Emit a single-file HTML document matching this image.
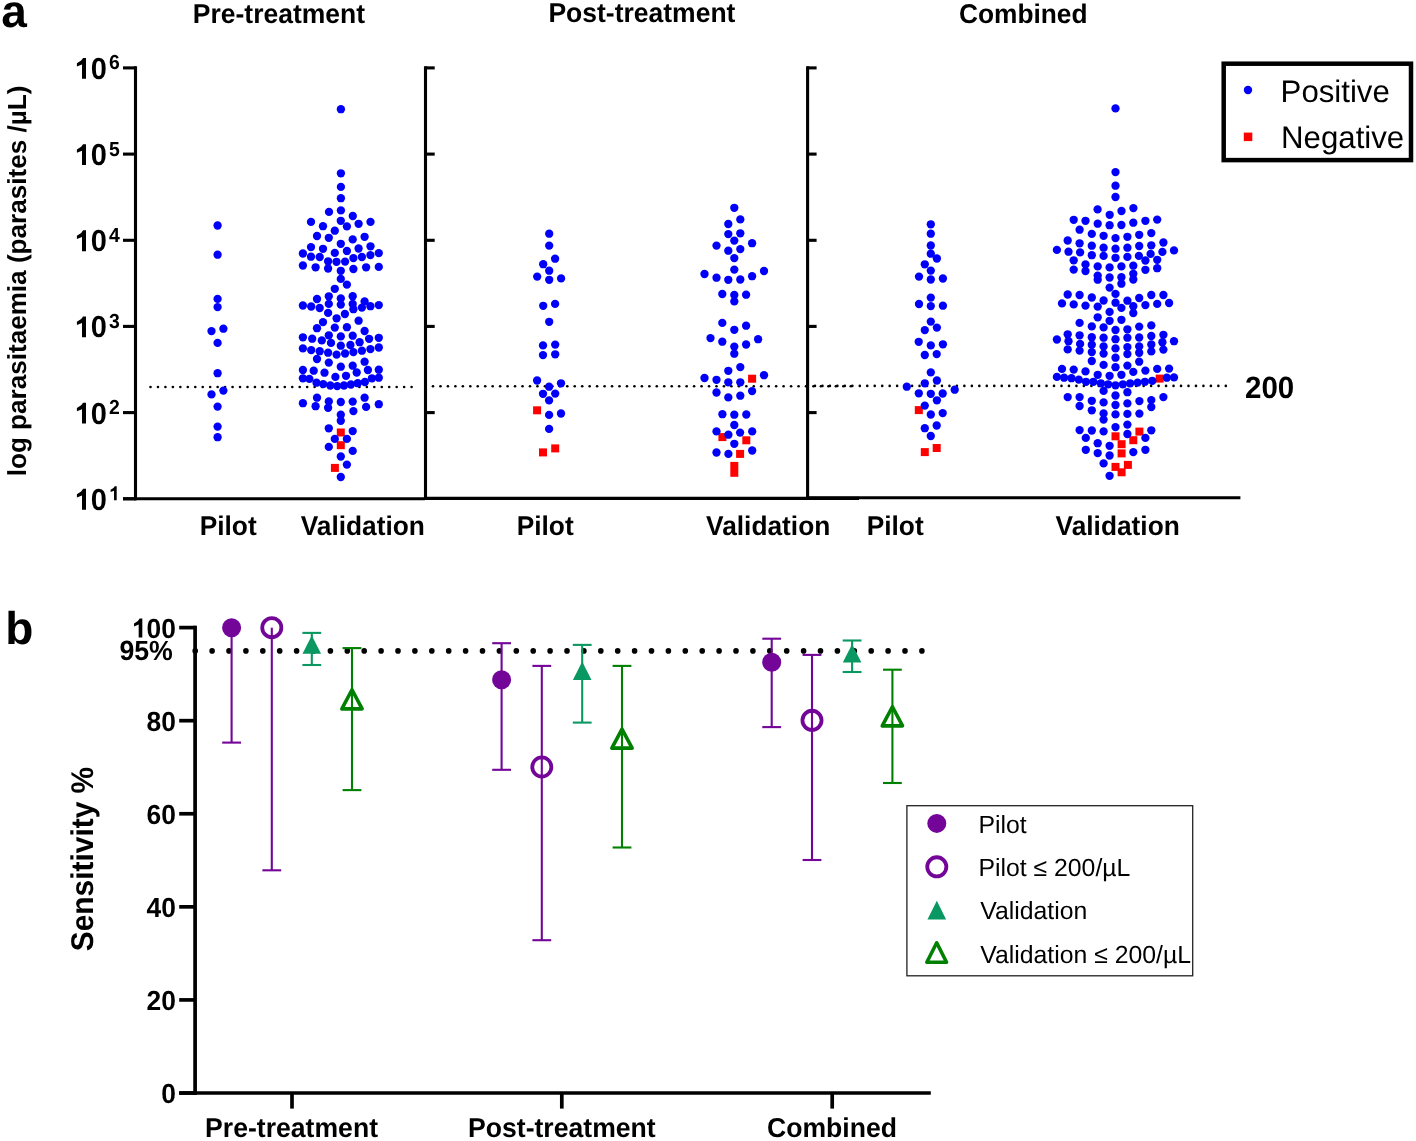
<!DOCTYPE html>
<html><head><meta charset="utf-8"><title>Figure</title>
<style>html,body{margin:0;padding:0;background:#fff;}body{width:1416px;height:1141px;overflow:hidden;}svg{display:block;will-change:transform;text-rendering:geometricPrecision;}</style>
</head><body>
<svg width="1416" height="1141" viewBox="0 0 1416 1141">
<rect width="1416" height="1141" fill="#fff"/>
<text transform="translate(1.2,26.9)" font-family="'Liberation Sans', sans-serif" font-weight="bold" font-size="46">a</text>
<text transform="translate(192.8,22.8) scale(1,1.03)" font-family="'Liberation Sans', sans-serif" font-weight="bold" font-size="26.5">Pre-treatment</text>
<text transform="translate(548.4,22) scale(1,1.03)" font-family="'Liberation Sans', sans-serif" font-weight="bold" font-size="26.5">Post-treatment</text>
<text transform="translate(959,23.3) scale(1,1.03)" font-family="'Liberation Sans', sans-serif" font-weight="bold" font-size="26.3">Combined</text>
<text transform="translate(26,476.3) rotate(-90)" font-family="'Liberation Sans', sans-serif" font-weight="bold" font-size="26.1">log parasitaemia (parasites /µL)</text>
<path d="M82,78.8 L86,78.8 L86,57.95 L83.1,57.95 L81.17,60.53 L76.9,63.3 L76.9,66.5 L82,64.5Z" fill="#000"/><text transform="translate(90.63,78.8) scale(1,1.045)" font-family="'Liberation Sans', sans-serif" font-weight="bold" font-size="29">0</text>
<text transform="translate(109,69.3) scale(1,1.045)" font-family="'Liberation Sans', sans-serif" font-weight="bold" font-size="19.4">6</text>
<line x1="123" y1="67.9" x2="136" y2="67.9" stroke="#000" stroke-width="3.1"/>
<line x1="425" y1="67.9" x2="434.7" y2="67.9" stroke="#000" stroke-width="3.1"/>
<line x1="807" y1="67.9" x2="816.6" y2="67.9" stroke="#000" stroke-width="3.1"/>
<path d="M82,165 L86,165 L86,144.15 L83.1,144.15 L81.17,146.73 L76.9,149.5 L76.9,152.7 L82,150.7Z" fill="#000"/><text transform="translate(90.63,165) scale(1,1.045)" font-family="'Liberation Sans', sans-serif" font-weight="bold" font-size="29">0</text>
<text transform="translate(109,155.5) scale(1,1.045)" font-family="'Liberation Sans', sans-serif" font-weight="bold" font-size="19.4">5</text>
<line x1="123" y1="154.1" x2="136" y2="154.1" stroke="#000" stroke-width="3.1"/>
<line x1="425" y1="154.1" x2="434.7" y2="154.1" stroke="#000" stroke-width="3.1"/>
<line x1="807" y1="154.1" x2="816.6" y2="154.1" stroke="#000" stroke-width="3.1"/>
<path d="M82,251.2 L86,251.2 L86,230.35 L83.1,230.35 L81.17,232.93 L76.9,235.7 L76.9,238.9 L82,236.9Z" fill="#000"/><text transform="translate(90.63,251.2) scale(1,1.045)" font-family="'Liberation Sans', sans-serif" font-weight="bold" font-size="29">0</text>
<text transform="translate(109,241.7) scale(1,1.045)" font-family="'Liberation Sans', sans-serif" font-weight="bold" font-size="19.4">4</text>
<line x1="123" y1="240.3" x2="136" y2="240.3" stroke="#000" stroke-width="3.1"/>
<line x1="425" y1="240.3" x2="434.7" y2="240.3" stroke="#000" stroke-width="3.1"/>
<line x1="807" y1="240.3" x2="816.6" y2="240.3" stroke="#000" stroke-width="3.1"/>
<path d="M82,337.3 L86,337.3 L86,316.45 L83.1,316.45 L81.17,319.03 L76.9,321.8 L76.9,325 L82,323Z" fill="#000"/><text transform="translate(90.63,337.3) scale(1,1.045)" font-family="'Liberation Sans', sans-serif" font-weight="bold" font-size="29">0</text>
<text transform="translate(109,327.8) scale(1,1.045)" font-family="'Liberation Sans', sans-serif" font-weight="bold" font-size="19.4">3</text>
<line x1="123" y1="326.4" x2="136" y2="326.4" stroke="#000" stroke-width="3.1"/>
<line x1="425" y1="326.4" x2="434.7" y2="326.4" stroke="#000" stroke-width="3.1"/>
<line x1="807" y1="326.4" x2="816.6" y2="326.4" stroke="#000" stroke-width="3.1"/>
<path d="M82,423.5 L86,423.5 L86,402.65 L83.1,402.65 L81.17,405.23 L76.9,408 L76.9,411.2 L82,409.2Z" fill="#000"/><text transform="translate(90.63,423.5) scale(1,1.045)" font-family="'Liberation Sans', sans-serif" font-weight="bold" font-size="29">0</text>
<text transform="translate(109,414) scale(1,1.045)" font-family="'Liberation Sans', sans-serif" font-weight="bold" font-size="19.4">2</text>
<line x1="123" y1="412.6" x2="136" y2="412.6" stroke="#000" stroke-width="3.1"/>
<line x1="425" y1="412.6" x2="434.7" y2="412.6" stroke="#000" stroke-width="3.1"/>
<line x1="807" y1="412.6" x2="816.6" y2="412.6" stroke="#000" stroke-width="3.1"/>
<path d="M82,509.7 L86,509.7 L86,488.85 L83.1,488.85 L81.17,491.43 L76.9,494.2 L76.9,497.4 L82,495.4Z" fill="#000"/><text transform="translate(90.63,509.7) scale(1,1.045)" font-family="'Liberation Sans', sans-serif" font-weight="bold" font-size="29">0</text>
<path d="M114.02,500.2 L116.69,500.2 L116.69,486.25 L114.75,486.25 L113.46,487.98 L110.61,489.83 L110.61,491.97 L114.02,490.63Z" fill="#000"/>
<line x1="123" y1="498.8" x2="136" y2="498.8" stroke="#000" stroke-width="3.1"/>
<line x1="135.5" y1="66.3" x2="135.5" y2="500.3" stroke="#000" stroke-width="3.1"/>
<line x1="123" y1="498.8" x2="425" y2="498.8" stroke="#000" stroke-width="3.1"/>
<line x1="425.5" y1="66.3" x2="425.5" y2="499.9" stroke="#000" stroke-width="3.1"/>
<line x1="424" y1="498.4" x2="859" y2="498.4" stroke="#000" stroke-width="3.1"/>
<line x1="807.6" y1="66.3" x2="807.6" y2="499.3" stroke="#000" stroke-width="3.1"/>
<line x1="806" y1="497.8" x2="1240.4" y2="497.8" stroke="#000" stroke-width="3.1"/>
<g fill="#000"><circle cx="150.5" cy="387" r="1.3"/><circle cx="157.96" cy="387" r="1.3"/><circle cx="165.42" cy="387" r="1.3"/><circle cx="172.88" cy="387" r="1.3"/><circle cx="180.34" cy="387" r="1.3"/><circle cx="187.8" cy="387" r="1.3"/><circle cx="195.26" cy="387" r="1.3"/><circle cx="202.72" cy="387" r="1.3"/><circle cx="210.18" cy="387" r="1.3"/><circle cx="217.64" cy="387" r="1.3"/><circle cx="225.1" cy="387" r="1.3"/><circle cx="232.56" cy="387" r="1.3"/><circle cx="240.02" cy="387" r="1.3"/><circle cx="247.48" cy="387" r="1.3"/><circle cx="254.94" cy="387" r="1.3"/><circle cx="262.4" cy="387" r="1.3"/><circle cx="269.86" cy="387" r="1.3"/><circle cx="277.32" cy="387" r="1.3"/><circle cx="284.78" cy="387" r="1.3"/><circle cx="292.24" cy="387" r="1.3"/><circle cx="299.7" cy="387" r="1.3"/><circle cx="307.16" cy="387" r="1.3"/><circle cx="314.62" cy="387" r="1.3"/><circle cx="322.08" cy="387" r="1.3"/><circle cx="329.54" cy="387" r="1.3"/><circle cx="337" cy="387" r="1.3"/><circle cx="344.46" cy="387" r="1.3"/><circle cx="351.92" cy="387" r="1.3"/><circle cx="359.38" cy="387" r="1.3"/><circle cx="366.84" cy="387" r="1.3"/><circle cx="374.3" cy="387" r="1.3"/><circle cx="381.76" cy="387" r="1.3"/><circle cx="389.22" cy="387" r="1.3"/><circle cx="396.68" cy="387" r="1.3"/><circle cx="404.14" cy="387" r="1.3"/><circle cx="411.6" cy="387" r="1.3"/><circle cx="433" cy="386.2" r="1.3"/><circle cx="440.46" cy="386.2" r="1.3"/><circle cx="447.92" cy="386.2" r="1.3"/><circle cx="455.38" cy="386.2" r="1.3"/><circle cx="462.84" cy="386.2" r="1.3"/><circle cx="470.3" cy="386.2" r="1.3"/><circle cx="477.76" cy="386.2" r="1.3"/><circle cx="485.22" cy="386.2" r="1.3"/><circle cx="492.68" cy="386.2" r="1.3"/><circle cx="500.14" cy="386.2" r="1.3"/><circle cx="507.6" cy="386.2" r="1.3"/><circle cx="515.06" cy="386.2" r="1.3"/><circle cx="522.52" cy="386.2" r="1.3"/><circle cx="529.98" cy="386.2" r="1.3"/><circle cx="537.44" cy="386.2" r="1.3"/><circle cx="544.9" cy="386.2" r="1.3"/><circle cx="552.36" cy="386.2" r="1.3"/><circle cx="559.82" cy="386.2" r="1.3"/><circle cx="567.28" cy="386.2" r="1.3"/><circle cx="574.74" cy="386.2" r="1.3"/><circle cx="582.2" cy="386.2" r="1.3"/><circle cx="589.66" cy="386.2" r="1.3"/><circle cx="597.12" cy="386.2" r="1.3"/><circle cx="604.58" cy="386.2" r="1.3"/><circle cx="612.04" cy="386.2" r="1.3"/><circle cx="619.5" cy="386.2" r="1.3"/><circle cx="626.96" cy="386.2" r="1.3"/><circle cx="634.42" cy="386.2" r="1.3"/><circle cx="641.88" cy="386.2" r="1.3"/><circle cx="649.34" cy="386.2" r="1.3"/><circle cx="656.8" cy="386.2" r="1.3"/><circle cx="664.26" cy="386.2" r="1.3"/><circle cx="671.72" cy="386.2" r="1.3"/><circle cx="679.18" cy="386.2" r="1.3"/><circle cx="686.64" cy="386.2" r="1.3"/><circle cx="694.1" cy="386.2" r="1.3"/><circle cx="701.56" cy="386.2" r="1.3"/><circle cx="709.02" cy="386.2" r="1.3"/><circle cx="716.48" cy="386.2" r="1.3"/><circle cx="723.94" cy="386.2" r="1.3"/><circle cx="731.4" cy="386.2" r="1.3"/><circle cx="738.86" cy="386.2" r="1.3"/><circle cx="746.32" cy="386.2" r="1.3"/><circle cx="753.78" cy="386.2" r="1.3"/><circle cx="761.24" cy="386.2" r="1.3"/><circle cx="768.7" cy="386.2" r="1.3"/><circle cx="776.16" cy="386.2" r="1.3"/><circle cx="783.62" cy="386.2" r="1.3"/><circle cx="791.08" cy="386.2" r="1.3"/><circle cx="798.54" cy="386.2" r="1.3"/><circle cx="806" cy="386.2" r="1.3"/><circle cx="813.46" cy="386.2" r="1.3"/><circle cx="820.92" cy="386.2" r="1.3"/><circle cx="828.38" cy="386.2" r="1.3"/><circle cx="835.84" cy="386.2" r="1.3"/><circle cx="843.3" cy="386.2" r="1.3"/><circle cx="850.76" cy="386.2" r="1.3"/><circle cx="807.5" cy="385.9" r="1.3"/><circle cx="814.97" cy="385.9" r="1.3"/><circle cx="822.44" cy="385.9" r="1.3"/><circle cx="829.91" cy="385.9" r="1.3"/><circle cx="837.38" cy="385.9" r="1.3"/><circle cx="844.85" cy="385.9" r="1.3"/><circle cx="852.32" cy="385.9" r="1.3"/><circle cx="859.79" cy="385.9" r="1.3"/><circle cx="867.26" cy="385.9" r="1.3"/><circle cx="874.73" cy="385.9" r="1.3"/><circle cx="882.2" cy="385.9" r="1.3"/><circle cx="889.67" cy="385.9" r="1.3"/><circle cx="897.14" cy="385.9" r="1.3"/><circle cx="904.61" cy="385.9" r="1.3"/><circle cx="912.08" cy="385.9" r="1.3"/><circle cx="919.55" cy="385.9" r="1.3"/><circle cx="927.02" cy="385.9" r="1.3"/><circle cx="934.49" cy="385.9" r="1.3"/><circle cx="941.96" cy="385.9" r="1.3"/><circle cx="949.43" cy="385.9" r="1.3"/><circle cx="956.9" cy="385.9" r="1.3"/><circle cx="964.37" cy="385.9" r="1.3"/><circle cx="971.84" cy="385.9" r="1.3"/><circle cx="979.31" cy="385.9" r="1.3"/><circle cx="986.78" cy="385.9" r="1.3"/><circle cx="994.25" cy="385.9" r="1.3"/><circle cx="1001.72" cy="385.9" r="1.3"/><circle cx="1009.19" cy="385.9" r="1.3"/><circle cx="1016.66" cy="385.9" r="1.3"/><circle cx="1024.13" cy="385.9" r="1.3"/><circle cx="1031.6" cy="385.9" r="1.3"/><circle cx="1039.07" cy="385.9" r="1.3"/><circle cx="1046.54" cy="385.9" r="1.3"/><circle cx="1054.01" cy="385.9" r="1.3"/><circle cx="1061.48" cy="385.9" r="1.3"/><circle cx="1068.95" cy="385.9" r="1.3"/><circle cx="1076.42" cy="385.9" r="1.3"/><circle cx="1083.89" cy="385.9" r="1.3"/><circle cx="1091.36" cy="385.9" r="1.3"/><circle cx="1098.83" cy="385.9" r="1.3"/><circle cx="1106.3" cy="385.9" r="1.3"/><circle cx="1113.77" cy="385.9" r="1.3"/><circle cx="1121.24" cy="385.9" r="1.3"/><circle cx="1128.71" cy="385.9" r="1.3"/><circle cx="1136.18" cy="385.9" r="1.3"/><circle cx="1143.65" cy="385.9" r="1.3"/><circle cx="1151.12" cy="385.9" r="1.3"/><circle cx="1158.59" cy="385.9" r="1.3"/><circle cx="1166.06" cy="385.9" r="1.3"/><circle cx="1173.53" cy="385.9" r="1.3"/><circle cx="1181" cy="385.9" r="1.3"/><circle cx="1188.47" cy="385.9" r="1.3"/><circle cx="1195.94" cy="385.9" r="1.3"/><circle cx="1203.41" cy="385.9" r="1.3"/><circle cx="1210.88" cy="385.9" r="1.3"/><circle cx="1218.35" cy="385.9" r="1.3"/><circle cx="1225.82" cy="385.9" r="1.3"/></g>
<text transform="translate(1244.98,397.6) scale(1,1.045)" font-family="'Liberation Sans', sans-serif" font-weight="bold" font-size="29.5">2</text><text transform="translate(1261.39,397.6) scale(1,1.045)" font-family="'Liberation Sans', sans-serif" font-weight="bold" font-size="29.5">0</text><text transform="translate(1277.79,397.6) scale(1,1.045)" font-family="'Liberation Sans', sans-serif" font-weight="bold" font-size="29.5">0</text>
<g fill="#ff0000"><rect x="336.8" y="428.5" width="8" height="8"/><rect x="336.8" y="441.2" width="8" height="8"/><rect x="330.9" y="463.9" width="8" height="8"/><rect x="533.1" y="406.3" width="8" height="8"/><rect x="539" y="448.4" width="8" height="8"/><rect x="551.2" y="444.4" width="8" height="8"/><rect x="748.1" y="374.7" width="8" height="8"/><rect x="718.4" y="433.1" width="8" height="8"/><rect x="742.3" y="436.3" width="8" height="8"/><rect x="736.1" y="449.9" width="8" height="8"/><rect x="914.8" y="406.1" width="8" height="8"/><rect x="920.8" y="448.1" width="8" height="8"/><rect x="932.7" y="444" width="8" height="8"/><rect x="1155.7" y="374.6" width="8" height="8"/><rect x="1135.4" y="427.6" width="8" height="8"/><rect x="1111.5" y="432.3" width="8" height="8"/><rect x="1129.3" y="436.2" width="8" height="8"/><rect x="1117.6" y="440.2" width="8" height="8"/><rect x="1117.6" y="449.4" width="8" height="8"/><rect x="1111.5" y="462.9" width="8" height="8"/><rect x="1123.9" y="460.9" width="8" height="8"/><rect x="1117.6" y="468.3" width="8" height="8"/></g>
<rect x="730.3" y="461.9" width="8" height="14.9" fill="#ff0000"/>
<g fill="#0000fa"><circle cx="217.6" cy="225.5" r="4.15"/><circle cx="217.6" cy="254.7" r="4.15"/><circle cx="217.6" cy="298.9" r="4.15"/><circle cx="217.6" cy="307.1" r="4.15"/><circle cx="223.4" cy="328.7" r="4.15"/><circle cx="211.5" cy="331.1" r="4.15"/><circle cx="217.6" cy="342.9" r="4.15"/><circle cx="217.6" cy="373.2" r="4.15"/><circle cx="223.4" cy="390.6" r="4.15"/><circle cx="211.5" cy="394.4" r="4.15"/><circle cx="217.6" cy="406.6" r="4.15"/><circle cx="217.6" cy="426.6" r="4.15"/><circle cx="217.6" cy="437.2" r="4.15"/><circle cx="340.9" cy="109.2" r="4.15"/><circle cx="340.9" cy="173.3" r="4.15"/><circle cx="340.9" cy="186.9" r="4.15"/><circle cx="340.9" cy="198.2" r="4.15"/><circle cx="329" cy="211.9" r="4.15"/><circle cx="340.9" cy="210.4" r="4.15"/><circle cx="352.8" cy="216" r="4.15"/><circle cx="311" cy="221.9" r="4.15"/><circle cx="340.8" cy="220.8" r="4.15"/><circle cx="370.5" cy="221.9" r="4.15"/><circle cx="323" cy="226.2" r="4.15"/><circle cx="346.9" cy="226.4" r="4.15"/><circle cx="358.6" cy="223.8" r="4.15"/><circle cx="334.8" cy="230.7" r="4.15"/><circle cx="317" cy="236" r="4.15"/><circle cx="328.8" cy="237.8" r="4.15"/><circle cx="352.7" cy="239.4" r="4.15"/><circle cx="364.6" cy="236.8" r="4.15"/><circle cx="340.8" cy="243.8" r="4.15"/><circle cx="311" cy="247.1" r="4.15"/><circle cx="323" cy="248.8" r="4.15"/><circle cx="358.6" cy="248.5" r="4.15"/><circle cx="370.5" cy="246.3" r="4.15"/><circle cx="302.9" cy="253.5" r="4.15"/><circle cx="334.8" cy="252.9" r="4.15"/><circle cx="346.9" cy="251" r="4.15"/><circle cx="378.8" cy="253.1" r="4.15"/><circle cx="311" cy="256.7" r="4.15"/><circle cx="319.7" cy="257" r="4.15"/><circle cx="353.4" cy="258.1" r="4.15"/><circle cx="361.9" cy="257" r="4.15"/><circle cx="370.4" cy="255.1" r="4.15"/><circle cx="328.1" cy="261.3" r="4.15"/><circle cx="336.5" cy="261.8" r="4.15"/><circle cx="345.1" cy="261.6" r="4.15"/><circle cx="302.9" cy="265.5" r="4.15"/><circle cx="315.6" cy="267.3" r="4.15"/><circle cx="328.1" cy="268.5" r="4.15"/><circle cx="340.8" cy="270.8" r="4.15"/><circle cx="353.4" cy="269" r="4.15"/><circle cx="366.1" cy="267.3" r="4.15"/><circle cx="378.8" cy="266.9" r="4.15"/><circle cx="340.8" cy="278.9" r="4.15"/><circle cx="346.9" cy="284.6" r="4.15"/><circle cx="334.8" cy="288.8" r="4.15"/><circle cx="328.8" cy="296.3" r="4.15"/><circle cx="340.8" cy="298.4" r="4.15"/><circle cx="352.7" cy="296.2" r="4.15"/><circle cx="317" cy="299" r="4.15"/><circle cx="302.9" cy="305.5" r="4.15"/><circle cx="311.2" cy="306.5" r="4.15"/><circle cx="319.7" cy="308" r="4.15"/><circle cx="328.8" cy="303.9" r="4.15"/><circle cx="340.8" cy="304.6" r="4.15"/><circle cx="352.7" cy="303.9" r="4.15"/><circle cx="353.4" cy="309.2" r="4.15"/><circle cx="364.6" cy="301.4" r="4.15"/><circle cx="361.9" cy="307.6" r="4.15"/><circle cx="370.4" cy="306.2" r="4.15"/><circle cx="378.8" cy="305.1" r="4.15"/><circle cx="328.1" cy="312.9" r="4.15"/><circle cx="344.9" cy="314" r="4.15"/><circle cx="336.6" cy="318.3" r="4.15"/><circle cx="358.6" cy="320.7" r="4.15"/><circle cx="323" cy="322.1" r="4.15"/><circle cx="317" cy="328.2" r="4.15"/><circle cx="334.8" cy="327.6" r="4.15"/><circle cx="346.9" cy="327.2" r="4.15"/><circle cx="364.6" cy="331" r="4.15"/><circle cx="302.9" cy="337.3" r="4.15"/><circle cx="312.2" cy="338.7" r="4.15"/><circle cx="321.8" cy="340.4" r="4.15"/><circle cx="328.8" cy="335.3" r="4.15"/><circle cx="331" cy="342.9" r="4.15"/><circle cx="340.8" cy="336.4" r="4.15"/><circle cx="340.8" cy="345.7" r="4.15"/><circle cx="352.7" cy="335.7" r="4.15"/><circle cx="350.4" cy="345" r="4.15"/><circle cx="359.6" cy="342.2" r="4.15"/><circle cx="369.1" cy="338.8" r="4.15"/><circle cx="378.8" cy="337.8" r="4.15"/><circle cx="302.9" cy="348.4" r="4.15"/><circle cx="311.2" cy="350.1" r="4.15"/><circle cx="319.7" cy="351.2" r="4.15"/><circle cx="328.1" cy="352.7" r="4.15"/><circle cx="336.6" cy="354.6" r="4.15"/><circle cx="345.1" cy="353.5" r="4.15"/><circle cx="353.4" cy="352.1" r="4.15"/><circle cx="361.9" cy="350.7" r="4.15"/><circle cx="370.4" cy="349.1" r="4.15"/><circle cx="378.8" cy="347.5" r="4.15"/><circle cx="317" cy="359" r="4.15"/><circle cx="328.8" cy="362.6" r="4.15"/><circle cx="340.8" cy="366.7" r="4.15"/><circle cx="352.7" cy="365.7" r="4.15"/><circle cx="364.6" cy="361.7" r="4.15"/><circle cx="302.9" cy="370" r="4.15"/><circle cx="313.7" cy="370.7" r="4.15"/><circle cx="324.5" cy="372.7" r="4.15"/><circle cx="356.7" cy="372.5" r="4.15"/><circle cx="367.9" cy="370" r="4.15"/><circle cx="378.8" cy="369.7" r="4.15"/><circle cx="335.4" cy="376.9" r="4.15"/><circle cx="346" cy="375.8" r="4.15"/><circle cx="302.9" cy="378.3" r="4.15"/><circle cx="309.4" cy="378.9" r="4.15"/><circle cx="316.5" cy="382.7" r="4.15"/><circle cx="323.2" cy="384.1" r="4.15"/><circle cx="330.3" cy="385.5" r="4.15"/><circle cx="337.2" cy="386.1" r="4.15"/><circle cx="344" cy="385.5" r="4.15"/><circle cx="350.9" cy="384.5" r="4.15"/><circle cx="357.8" cy="383.2" r="4.15"/><circle cx="364.9" cy="382" r="4.15"/><circle cx="371.9" cy="378.3" r="4.15"/><circle cx="378.8" cy="377.7" r="4.15"/><circle cx="302.9" cy="403.2" r="4.15"/><circle cx="317" cy="397.7" r="4.15"/><circle cx="315.6" cy="406.2" r="4.15"/><circle cx="328.8" cy="401.4" r="4.15"/><circle cx="328.1" cy="407.8" r="4.15"/><circle cx="340.8" cy="402" r="4.15"/><circle cx="352.7" cy="401.6" r="4.15"/><circle cx="353.4" cy="411.1" r="4.15"/><circle cx="364.6" cy="397.7" r="4.15"/><circle cx="366.1" cy="406.9" r="4.15"/><circle cx="378.8" cy="404.2" r="4.15"/><circle cx="340.8" cy="414.7" r="4.15"/><circle cx="340.8" cy="420.8" r="4.15"/><circle cx="328.8" cy="428.3" r="4.15"/><circle cx="352.7" cy="431.1" r="4.15"/><circle cx="334.8" cy="438.9" r="4.15"/><circle cx="346.9" cy="438.9" r="4.15"/><circle cx="328.8" cy="446.9" r="4.15"/><circle cx="352.7" cy="450.9" r="4.15"/><circle cx="340.8" cy="456.5" r="4.15"/><circle cx="346.9" cy="464.6" r="4.15"/><circle cx="340.8" cy="477" r="4.15"/><circle cx="549.2" cy="233.7" r="4.15"/><circle cx="549.2" cy="245.6" r="4.15"/><circle cx="555.1" cy="258.7" r="4.15"/><circle cx="543.2" cy="264.2" r="4.15"/><circle cx="549.2" cy="270.7" r="4.15"/><circle cx="537.2" cy="276.6" r="4.15"/><circle cx="549.2" cy="279.8" r="4.15"/><circle cx="561.1" cy="278.4" r="4.15"/><circle cx="543.2" cy="305.8" r="4.15"/><circle cx="555.1" cy="303.9" r="4.15"/><circle cx="549.2" cy="321.8" r="4.15"/><circle cx="543" cy="345.4" r="4.15"/><circle cx="555.2" cy="344.6" r="4.15"/><circle cx="543" cy="355.1" r="4.15"/><circle cx="555.2" cy="354.3" r="4.15"/><circle cx="537.1" cy="380.5" r="4.15"/><circle cx="561" cy="383.3" r="4.15"/><circle cx="549.1" cy="386.7" r="4.15"/><circle cx="543" cy="393.8" r="4.15"/><circle cx="555.2" cy="393.6" r="4.15"/><circle cx="549.1" cy="400.4" r="4.15"/><circle cx="549.1" cy="414.9" r="4.15"/><circle cx="561" cy="413.5" r="4.15"/><circle cx="549.1" cy="428.9" r="4.15"/><circle cx="734.3" cy="207.8" r="4.15"/><circle cx="740.3" cy="219.4" r="4.15"/><circle cx="728.3" cy="224" r="4.15"/><circle cx="728.3" cy="234.1" r="4.15"/><circle cx="740.3" cy="233.3" r="4.15"/><circle cx="734.3" cy="240.6" r="4.15"/><circle cx="716.5" cy="245.6" r="4.15"/><circle cx="752.1" cy="243.2" r="4.15"/><circle cx="728.3" cy="250.7" r="4.15"/><circle cx="740.3" cy="249.1" r="4.15"/><circle cx="734.3" cy="258.1" r="4.15"/><circle cx="734.3" cy="269.6" r="4.15"/><circle cx="704.5" cy="274" r="4.15"/><circle cx="764" cy="271" r="4.15"/><circle cx="716.5" cy="277.7" r="4.15"/><circle cx="728.3" cy="279.8" r="4.15"/><circle cx="740.3" cy="279.5" r="4.15"/><circle cx="752.1" cy="276.2" r="4.15"/><circle cx="722.3" cy="294" r="4.15"/><circle cx="734.3" cy="295" r="4.15"/><circle cx="746.1" cy="294.7" r="4.15"/><circle cx="734.3" cy="301.4" r="4.15"/><circle cx="722.3" cy="322.9" r="4.15"/><circle cx="746.1" cy="325.7" r="4.15"/><circle cx="734.3" cy="329.8" r="4.15"/><circle cx="710.5" cy="338.1" r="4.15"/><circle cx="758.1" cy="339.2" r="4.15"/><circle cx="722.3" cy="341.7" r="4.15"/><circle cx="746.1" cy="344.5" r="4.15"/><circle cx="734.3" cy="346.6" r="4.15"/><circle cx="734.3" cy="353.7" r="4.15"/><circle cx="740.3" cy="367.1" r="4.15"/><circle cx="728.3" cy="370.8" r="4.15"/><circle cx="704.5" cy="378" r="4.15"/><circle cx="716.5" cy="379.8" r="4.15"/><circle cx="728.3" cy="382.3" r="4.15"/><circle cx="740.3" cy="382.3" r="4.15"/><circle cx="764" cy="375.2" r="4.15"/><circle cx="716.5" cy="392.5" r="4.15"/><circle cx="752.1" cy="391.1" r="4.15"/><circle cx="728.3" cy="397.4" r="4.15"/><circle cx="740.3" cy="395.7" r="4.15"/><circle cx="722.4" cy="414.2" r="4.15"/><circle cx="734.3" cy="414.7" r="4.15"/><circle cx="746.3" cy="414.5" r="4.15"/><circle cx="734.3" cy="425" r="4.15"/><circle cx="716.5" cy="431.4" r="4.15"/><circle cx="728.4" cy="434.7" r="4.15"/><circle cx="740.1" cy="432.6" r="4.15"/><circle cx="752.2" cy="431.4" r="4.15"/><circle cx="734.3" cy="443.8" r="4.15"/><circle cx="716.5" cy="452.5" r="4.15"/><circle cx="728.4" cy="453.9" r="4.15"/><circle cx="752.2" cy="450.5" r="4.15"/><circle cx="930.8" cy="224.3" r="4.15"/><circle cx="930.8" cy="233.7" r="4.15"/><circle cx="930.8" cy="245.5" r="4.15"/><circle cx="930.8" cy="253.7" r="4.15"/><circle cx="936.9" cy="258.5" r="4.15"/><circle cx="924.8" cy="264.3" r="4.15"/><circle cx="930.8" cy="270.6" r="4.15"/><circle cx="919" cy="276.6" r="4.15"/><circle cx="930.8" cy="279.5" r="4.15"/><circle cx="942.9" cy="278.5" r="4.15"/><circle cx="930.8" cy="297.6" r="4.15"/><circle cx="919" cy="304" r="4.15"/><circle cx="930.8" cy="306.1" r="4.15"/><circle cx="942.9" cy="305.7" r="4.15"/><circle cx="930.8" cy="321.6" r="4.15"/><circle cx="936.9" cy="327.6" r="4.15"/><circle cx="924.8" cy="330.1" r="4.15"/><circle cx="918.7" cy="341.8" r="4.15"/><circle cx="930.8" cy="345.4" r="4.15"/><circle cx="942.9" cy="344.3" r="4.15"/><circle cx="924.8" cy="355" r="4.15"/><circle cx="936.7" cy="354.1" r="4.15"/><circle cx="930.8" cy="372.4" r="4.15"/><circle cx="936.9" cy="380.5" r="4.15"/><circle cx="924.8" cy="383.3" r="4.15"/><circle cx="906.8" cy="386.7" r="4.15"/><circle cx="954.7" cy="389.7" r="4.15"/><circle cx="918.8" cy="393.3" r="4.15"/><circle cx="930.8" cy="393.8" r="4.15"/><circle cx="942.7" cy="393.5" r="4.15"/><circle cx="936.9" cy="400.3" r="4.15"/><circle cx="924.8" cy="405.6" r="4.15"/><circle cx="930.8" cy="414.5" r="4.15"/><circle cx="942.7" cy="413.1" r="4.15"/><circle cx="924.8" cy="428.2" r="4.15"/><circle cx="936.7" cy="425.5" r="4.15"/><circle cx="930.8" cy="436" r="4.15"/><circle cx="1115.5" cy="108.4" r="4.15"/><circle cx="1115.5" cy="172.1" r="4.15"/><circle cx="1115.5" cy="185.7" r="4.15"/><circle cx="1115.5" cy="197" r="4.15"/><circle cx="1097.6" cy="209.4" r="4.15"/><circle cx="1133.4" cy="208.1" r="4.15"/><circle cx="1109.7" cy="214.8" r="4.15"/><circle cx="1121.5" cy="211" r="4.15"/><circle cx="1073.7" cy="219.8" r="4.15"/><circle cx="1085.5" cy="220.8" r="4.15"/><circle cx="1097.7" cy="223.7" r="4.15"/><circle cx="1109.6" cy="225.2" r="4.15"/><circle cx="1121.4" cy="225" r="4.15"/><circle cx="1133.3" cy="222.7" r="4.15"/><circle cx="1145.4" cy="220.8" r="4.15"/><circle cx="1157.2" cy="219.6" r="4.15"/><circle cx="1079.6" cy="229.7" r="4.15"/><circle cx="1091.8" cy="233.9" r="4.15"/><circle cx="1103.6" cy="235.8" r="4.15"/><circle cx="1115.5" cy="238.1" r="4.15"/><circle cx="1127.4" cy="236.8" r="4.15"/><circle cx="1139.2" cy="234.8" r="4.15"/><circle cx="1151.3" cy="233.1" r="4.15"/><circle cx="1067.7" cy="240.5" r="4.15"/><circle cx="1079.6" cy="243.3" r="4.15"/><circle cx="1091.8" cy="245.7" r="4.15"/><circle cx="1103.6" cy="247.7" r="4.15"/><circle cx="1115.5" cy="248.7" r="4.15"/><circle cx="1127.4" cy="247.7" r="4.15"/><circle cx="1139.2" cy="246" r="4.15"/><circle cx="1151.3" cy="245.3" r="4.15"/><circle cx="1163.4" cy="242.5" r="4.15"/><circle cx="1056.9" cy="249.9" r="4.15"/><circle cx="1068.5" cy="251.7" r="4.15"/><circle cx="1080.1" cy="252.4" r="4.15"/><circle cx="1091.8" cy="255.2" r="4.15"/><circle cx="1103.6" cy="255.9" r="4.15"/><circle cx="1115.5" cy="257.8" r="4.15"/><circle cx="1127.4" cy="256.9" r="4.15"/><circle cx="1138.9" cy="255.9" r="4.15"/><circle cx="1150.6" cy="253.9" r="4.15"/><circle cx="1162.4" cy="251.9" r="4.15"/><circle cx="1174" cy="250.4" r="4.15"/><circle cx="1073.7" cy="260.3" r="4.15"/><circle cx="1145.4" cy="260.5" r="4.15"/><circle cx="1157.2" cy="259.8" r="4.15"/><circle cx="1085.5" cy="264.4" r="4.15"/><circle cx="1097.7" cy="266.4" r="4.15"/><circle cx="1109.6" cy="267.4" r="4.15"/><circle cx="1121.4" cy="266.4" r="4.15"/><circle cx="1133.3" cy="265.7" r="4.15"/><circle cx="1073.7" cy="269.6" r="4.15"/><circle cx="1085.5" cy="271.1" r="4.15"/><circle cx="1145.4" cy="269.8" r="4.15"/><circle cx="1157.2" cy="268.2" r="4.15"/><circle cx="1097.7" cy="275.6" r="4.15"/><circle cx="1097.7" cy="279.7" r="4.15"/><circle cx="1109.6" cy="277.5" r="4.15"/><circle cx="1121.4" cy="277.2" r="4.15"/><circle cx="1121.4" cy="283.7" r="4.15"/><circle cx="1133.3" cy="273.8" r="4.15"/><circle cx="1133.3" cy="279.5" r="4.15"/><circle cx="1109.6" cy="287.6" r="4.15"/><circle cx="1115.5" cy="293.9" r="4.15"/><circle cx="1067.7" cy="294.5" r="4.15"/><circle cx="1079.6" cy="295" r="4.15"/><circle cx="1091.8" cy="297.5" r="4.15"/><circle cx="1103.6" cy="300.5" r="4.15"/><circle cx="1127.4" cy="300.7" r="4.15"/><circle cx="1139.2" cy="298" r="4.15"/><circle cx="1151.3" cy="295" r="4.15"/><circle cx="1163.4" cy="295" r="4.15"/><circle cx="1062" cy="303.4" r="4.15"/><circle cx="1073.7" cy="304.4" r="4.15"/><circle cx="1085.5" cy="305.6" r="4.15"/><circle cx="1097.7" cy="306.6" r="4.15"/><circle cx="1115.5" cy="302.7" r="4.15"/><circle cx="1121.4" cy="307.9" r="4.15"/><circle cx="1133.3" cy="306.2" r="4.15"/><circle cx="1145.4" cy="305.1" r="4.15"/><circle cx="1157.2" cy="303.9" r="4.15"/><circle cx="1169.1" cy="303" r="4.15"/><circle cx="1109.6" cy="311.9" r="4.15"/><circle cx="1133.3" cy="313.1" r="4.15"/><circle cx="1097.7" cy="317.3" r="4.15"/><circle cx="1109.6" cy="320.8" r="4.15"/><circle cx="1121.4" cy="319.8" r="4.15"/><circle cx="1079.6" cy="322.9" r="4.15"/><circle cx="1091.8" cy="326.4" r="4.15"/><circle cx="1103.6" cy="327.4" r="4.15"/><circle cx="1115.5" cy="330" r="4.15"/><circle cx="1127.4" cy="329.3" r="4.15"/><circle cx="1139.2" cy="326.6" r="4.15"/><circle cx="1151.3" cy="325.4" r="4.15"/><circle cx="1056.9" cy="339.5" r="4.15"/><circle cx="1067.7" cy="334.3" r="4.15"/><circle cx="1068.5" cy="341.2" r="4.15"/><circle cx="1067.7" cy="349.4" r="4.15"/><circle cx="1079.6" cy="335.3" r="4.15"/><circle cx="1080.1" cy="343.9" r="4.15"/><circle cx="1079.6" cy="350.6" r="4.15"/><circle cx="1091.8" cy="337.2" r="4.15"/><circle cx="1091.8" cy="344.7" r="4.15"/><circle cx="1091.8" cy="352.1" r="4.15"/><circle cx="1103.6" cy="337.7" r="4.15"/><circle cx="1103.6" cy="346.4" r="4.15"/><circle cx="1103.6" cy="353.6" r="4.15"/><circle cx="1115.5" cy="339.2" r="4.15"/><circle cx="1115.5" cy="348.4" r="4.15"/><circle cx="1115.5" cy="357.7" r="4.15"/><circle cx="1127.4" cy="337.7" r="4.15"/><circle cx="1127.4" cy="347.1" r="4.15"/><circle cx="1127.4" cy="354.1" r="4.15"/><circle cx="1139.2" cy="337.5" r="4.15"/><circle cx="1139.2" cy="346.4" r="4.15"/><circle cx="1139.2" cy="352.8" r="4.15"/><circle cx="1151.3" cy="336" r="4.15"/><circle cx="1151.3" cy="344.5" r="4.15"/><circle cx="1151.3" cy="351.4" r="4.15"/><circle cx="1163.4" cy="334.8" r="4.15"/><circle cx="1162.4" cy="342.2" r="4.15"/><circle cx="1163.4" cy="349.6" r="4.15"/><circle cx="1174" cy="341.2" r="4.15"/><circle cx="1091.8" cy="361" r="4.15"/><circle cx="1139.2" cy="361.7" r="4.15"/><circle cx="1103.6" cy="364.9" r="4.15"/><circle cx="1115.5" cy="367.2" r="4.15"/><circle cx="1127.4" cy="365.6" r="4.15"/><circle cx="1062" cy="368.9" r="4.15"/><circle cx="1073.7" cy="369.6" r="4.15"/><circle cx="1085.5" cy="371.4" r="4.15"/><circle cx="1133.3" cy="371.9" r="4.15"/><circle cx="1145.4" cy="370.6" r="4.15"/><circle cx="1157.2" cy="368.9" r="4.15"/><circle cx="1169.1" cy="368.6" r="4.15"/><circle cx="1097.7" cy="374.8" r="4.15"/><circle cx="1109.6" cy="375.8" r="4.15"/><circle cx="1121.4" cy="374.8" r="4.15"/><circle cx="1056.9" cy="376.9" r="4.15"/><circle cx="1064.1" cy="377.7" r="4.15"/><circle cx="1071.5" cy="378.2" r="4.15"/><circle cx="1078.8" cy="379.6" r="4.15"/><circle cx="1086" cy="381.8" r="4.15"/><circle cx="1093.4" cy="381.8" r="4.15"/><circle cx="1100.9" cy="383.3" r="4.15"/><circle cx="1108.1" cy="384.3" r="4.15"/><circle cx="1115.5" cy="385.3" r="4.15"/><circle cx="1122.9" cy="384.3" r="4.15"/><circle cx="1130.2" cy="383.3" r="4.15"/><circle cx="1137.6" cy="382.6" r="4.15"/><circle cx="1144.9" cy="381.8" r="4.15"/><circle cx="1152.3" cy="380.8" r="4.15"/><circle cx="1166.8" cy="377.7" r="4.15"/><circle cx="1174" cy="377.4" r="4.15"/><circle cx="1103.6" cy="390.9" r="4.15"/><circle cx="1127.4" cy="392.2" r="4.15"/><circle cx="1115.5" cy="395.5" r="4.15"/><circle cx="1067.7" cy="397.1" r="4.15"/><circle cx="1079.6" cy="397.1" r="4.15"/><circle cx="1163.4" cy="397.1" r="4.15"/><circle cx="1091.8" cy="400.8" r="4.15"/><circle cx="1139.4" cy="401.1" r="4.15"/><circle cx="1151.3" cy="400.1" r="4.15"/><circle cx="1103.6" cy="402.4" r="4.15"/><circle cx="1127.4" cy="403.4" r="4.15"/><circle cx="1115.5" cy="405" r="4.15"/><circle cx="1079.6" cy="406" r="4.15"/><circle cx="1151.3" cy="407" r="4.15"/><circle cx="1091.8" cy="410.3" r="4.15"/><circle cx="1103.6" cy="413.4" r="4.15"/><circle cx="1115.5" cy="414.4" r="4.15"/><circle cx="1127.4" cy="413.9" r="4.15"/><circle cx="1139.4" cy="413.6" r="4.15"/><circle cx="1103.6" cy="419.6" r="4.15"/><circle cx="1127.4" cy="424.6" r="4.15"/><circle cx="1115.5" cy="427.1" r="4.15"/><circle cx="1079.6" cy="430.1" r="4.15"/><circle cx="1091.8" cy="430.5" r="4.15"/><circle cx="1103.6" cy="431.4" r="4.15"/><circle cx="1151.3" cy="430.3" r="4.15"/><circle cx="1127.4" cy="434" r="4.15"/><circle cx="1085.8" cy="437.9" r="4.15"/><circle cx="1145.4" cy="437.9" r="4.15"/><circle cx="1097.7" cy="443.2" r="4.15"/><circle cx="1109.6" cy="445.8" r="4.15"/><circle cx="1085.8" cy="449.8" r="4.15"/><circle cx="1097.7" cy="453.1" r="4.15"/><circle cx="1133.3" cy="452.1" r="4.15"/><circle cx="1145.4" cy="449.8" r="4.15"/><circle cx="1109.6" cy="455.5" r="4.15"/><circle cx="1103.6" cy="463.4" r="4.15"/><circle cx="1109.6" cy="475.8" r="4.15"/></g>
<text transform="translate(199.7,535.4) scale(1,1.03)" font-family="'Liberation Sans', sans-serif" font-weight="bold" font-size="26.3">Pilot</text>
<text transform="translate(300.7,535.4) scale(1,1.03)" font-family="'Liberation Sans', sans-serif" font-weight="bold" font-size="26.3">Validation</text>
<text transform="translate(516.7,535.4) scale(1,1.03)" font-family="'Liberation Sans', sans-serif" font-weight="bold" font-size="26.3">Pilot</text>
<text transform="translate(706.1,535.4) scale(1,1.03)" font-family="'Liberation Sans', sans-serif" font-weight="bold" font-size="26.3">Validation</text>
<text transform="translate(866.7,535.4) scale(1,1.03)" font-family="'Liberation Sans', sans-serif" font-weight="bold" font-size="26.3">Pilot</text>
<text transform="translate(1055.6,535.4) scale(1,1.03)" font-family="'Liberation Sans', sans-serif" font-weight="bold" font-size="26.3">Validation</text>
<rect x="1223.7" y="63.7" width="187.3" height="96.4" fill="none" stroke="#000" stroke-width="4.5"/>
<circle cx="1248" cy="90" r="4.2" fill="#0000fa"/>
<rect x="1243.8" y="132.6" width="8.5" height="8.5" fill="#ff0000"/>
<text transform="translate(1280.6,101.8)" font-family="'Liberation Sans', sans-serif" font-size="31.2">Positive</text>
<text transform="translate(1281.1,148.3)" font-family="'Liberation Sans', sans-serif" font-size="31.2">Negative</text>
<text transform="translate(5.2,644.2)" font-family="'Liberation Sans', sans-serif" font-weight="bold" font-size="46">b</text>
<line x1="179.2" y1="627.6" x2="196" y2="627.6" stroke="#000" stroke-width="3.7"/>
<path d="M138.68,637.6 L142.32,637.6 L142.32,618.62 L139.68,618.62 L137.92,620.97 L134.04,623.49 L134.04,626.4 L138.68,624.58Z" fill="#000"/><text transform="translate(146.54,637.6) scale(1,1.045)" font-family="'Liberation Sans', sans-serif" font-weight="bold" font-size="26.4">0</text><text transform="translate(161.22,637.6) scale(1,1.045)" font-family="'Liberation Sans', sans-serif" font-weight="bold" font-size="26.4">0</text>
<line x1="179.2" y1="720.68" x2="196" y2="720.68" stroke="#000" stroke-width="3.7"/>
<text transform="translate(146.54,730.68) scale(1,1.045)" font-family="'Liberation Sans', sans-serif" font-weight="bold" font-size="26.4">8</text><text transform="translate(161.22,730.68) scale(1,1.045)" font-family="'Liberation Sans', sans-serif" font-weight="bold" font-size="26.4">0</text>
<line x1="179.2" y1="813.76" x2="196" y2="813.76" stroke="#000" stroke-width="3.7"/>
<text transform="translate(146.54,823.76) scale(1,1.045)" font-family="'Liberation Sans', sans-serif" font-weight="bold" font-size="26.4">6</text><text transform="translate(161.22,823.76) scale(1,1.045)" font-family="'Liberation Sans', sans-serif" font-weight="bold" font-size="26.4">0</text>
<line x1="179.2" y1="906.84" x2="196" y2="906.84" stroke="#000" stroke-width="3.7"/>
<text transform="translate(146.54,916.84) scale(1,1.045)" font-family="'Liberation Sans', sans-serif" font-weight="bold" font-size="26.4">4</text><text transform="translate(161.22,916.84) scale(1,1.045)" font-family="'Liberation Sans', sans-serif" font-weight="bold" font-size="26.4">0</text>
<line x1="179.2" y1="999.92" x2="196" y2="999.92" stroke="#000" stroke-width="3.7"/>
<text transform="translate(146.54,1009.92) scale(1,1.045)" font-family="'Liberation Sans', sans-serif" font-weight="bold" font-size="26.4">2</text><text transform="translate(161.22,1009.92) scale(1,1.045)" font-family="'Liberation Sans', sans-serif" font-weight="bold" font-size="26.4">0</text>
<line x1="179.2" y1="1093" x2="196" y2="1093" stroke="#000" stroke-width="3.7"/>
<text transform="translate(161.22,1103) scale(1,1.045)" font-family="'Liberation Sans', sans-serif" font-weight="bold" font-size="26.4">0</text>
<text transform="translate(172.8,660.2) scale(1,1.04)" font-family="'Liberation Sans', sans-serif" font-weight="bold" font-size="26.7" text-anchor="end">95%</text>
<line x1="195.1" y1="625.8" x2="195.1" y2="1094.8" stroke="#000" stroke-width="3.7"/>
<line x1="179.2" y1="1093" x2="930.8" y2="1093" stroke="#000" stroke-width="3.7"/>
<line x1="292" y1="1093" x2="292" y2="1108.6" stroke="#000" stroke-width="3.7"/>
<line x1="561.8" y1="1093" x2="561.8" y2="1108.6" stroke="#000" stroke-width="3.7"/>
<line x1="832.2" y1="1093" x2="832.2" y2="1108.6" stroke="#000" stroke-width="3.7"/>
<text transform="translate(205.1,1136.6) scale(1,1.03)" font-family="'Liberation Sans', sans-serif" font-weight="bold" font-size="26.6">Pre-treatment</text>
<text transform="translate(468,1136.6) scale(1,1.03)" font-family="'Liberation Sans', sans-serif" font-weight="bold" font-size="26.6">Post-treatment</text>
<text transform="translate(767,1136.6) scale(1,1.03)" font-family="'Liberation Sans', sans-serif" font-weight="bold" font-size="26.6">Combined</text>
<text transform="translate(92.7,951.2) rotate(-90) scale(1,1.05)" font-family="'Liberation Sans', sans-serif" font-weight="bold" font-size="29.9">Sensitivity %</text>
<g fill="#000"><circle cx="195.2" cy="650.9" r="2.8"/><circle cx="212.1" cy="650.9" r="2.8"/><circle cx="229" cy="650.9" r="2.8"/><circle cx="245.9" cy="650.9" r="2.8"/><circle cx="262.8" cy="650.9" r="2.8"/><circle cx="279.7" cy="650.9" r="2.8"/><circle cx="296.6" cy="650.9" r="2.8"/><circle cx="313.5" cy="650.9" r="2.8"/><circle cx="330.4" cy="650.9" r="2.8"/><circle cx="347.3" cy="650.9" r="2.8"/><circle cx="364.2" cy="650.9" r="2.8"/><circle cx="381.1" cy="650.9" r="2.8"/><circle cx="398" cy="650.9" r="2.8"/><circle cx="414.9" cy="650.9" r="2.8"/><circle cx="431.8" cy="650.9" r="2.8"/><circle cx="448.7" cy="650.9" r="2.8"/><circle cx="465.6" cy="650.9" r="2.8"/><circle cx="482.5" cy="650.9" r="2.8"/><circle cx="499.4" cy="650.9" r="2.8"/><circle cx="516.3" cy="650.9" r="2.8"/><circle cx="533.2" cy="650.9" r="2.8"/><circle cx="550.1" cy="650.9" r="2.8"/><circle cx="567" cy="650.9" r="2.8"/><circle cx="583.9" cy="650.9" r="2.8"/><circle cx="600.8" cy="650.9" r="2.8"/><circle cx="617.7" cy="650.9" r="2.8"/><circle cx="634.6" cy="650.9" r="2.8"/><circle cx="651.5" cy="650.9" r="2.8"/><circle cx="668.4" cy="650.9" r="2.8"/><circle cx="685.3" cy="650.9" r="2.8"/><circle cx="702.2" cy="650.9" r="2.8"/><circle cx="719.1" cy="650.9" r="2.8"/><circle cx="736" cy="650.9" r="2.8"/><circle cx="752.9" cy="650.9" r="2.8"/><circle cx="769.8" cy="650.9" r="2.8"/><circle cx="786.7" cy="650.9" r="2.8"/><circle cx="803.6" cy="650.9" r="2.8"/><circle cx="820.5" cy="650.9" r="2.8"/><circle cx="837.4" cy="650.9" r="2.8"/><circle cx="854.3" cy="650.9" r="2.8"/><circle cx="871.2" cy="650.9" r="2.8"/><circle cx="888.1" cy="650.9" r="2.8"/><circle cx="905" cy="650.9" r="2.8"/><circle cx="921.9" cy="650.9" r="2.8"/></g>
<line x1="231.6" y1="627.7" x2="231.6" y2="742.6" stroke="#730598" stroke-width="2.1"/><line x1="222.2" y1="742.6" x2="241" y2="742.6" stroke="#730598" stroke-width="2.1"/>
<circle cx="231.6" cy="627.7" r="9.5" fill="#730598"/>
<line x1="271.8" y1="627.7" x2="271.8" y2="870.3" stroke="#730598" stroke-width="2.1"/><line x1="262.4" y1="870.3" x2="281.2" y2="870.3" stroke="#730598" stroke-width="2.1"/>
<circle cx="271.8" cy="627.7" r="9.55" fill="none" stroke="#730598" stroke-width="3.8"/>
<line x1="311.8" y1="632.9" x2="311.8" y2="665" stroke="#0a9862" stroke-width="2.1"/><line x1="302.4" y1="632.9" x2="321.2" y2="632.9" stroke="#0a9862" stroke-width="2.1"/><line x1="302.4" y1="665" x2="321.2" y2="665" stroke="#0a9862" stroke-width="2.1"/>
<polygon points="302.5,653.8 321.1,653.8 311.8,635.4" fill="#0a9862"/>
<line x1="352" y1="648.1" x2="352" y2="790.1" stroke="#008000" stroke-width="2.1"/><line x1="342.6" y1="648.1" x2="361.4" y2="648.1" stroke="#008000" stroke-width="2.1"/><line x1="342.6" y1="790.1" x2="361.4" y2="790.1" stroke="#008000" stroke-width="2.1"/>
<polygon points="341.85,708.85 362.15,708.85 352,689.75" fill="none" stroke="#008000" stroke-width="3.6" stroke-linejoin="round"/>
<line x1="501.6" y1="643.2" x2="501.6" y2="769.8" stroke="#730598" stroke-width="2.1"/><line x1="492.2" y1="643.2" x2="511" y2="643.2" stroke="#730598" stroke-width="2.1"/><line x1="492.2" y1="769.8" x2="511" y2="769.8" stroke="#730598" stroke-width="2.1"/>
<circle cx="501.6" cy="679.7" r="9.5" fill="#730598"/>
<line x1="541.8" y1="665.9" x2="541.8" y2="940.2" stroke="#730598" stroke-width="2.1"/><line x1="532.4" y1="665.9" x2="551.2" y2="665.9" stroke="#730598" stroke-width="2.1"/><line x1="532.4" y1="940.2" x2="551.2" y2="940.2" stroke="#730598" stroke-width="2.1"/>
<circle cx="541.8" cy="767" r="9.55" fill="none" stroke="#730598" stroke-width="3.8"/>
<line x1="582.2" y1="644.9" x2="582.2" y2="722.6" stroke="#0a9862" stroke-width="2.1"/><line x1="572.8" y1="644.9" x2="591.6" y2="644.9" stroke="#0a9862" stroke-width="2.1"/><line x1="572.8" y1="722.6" x2="591.6" y2="722.6" stroke="#0a9862" stroke-width="2.1"/>
<polygon points="572.9,679.9 591.5,679.9 582.2,661.5" fill="#0a9862"/>
<line x1="622" y1="665.9" x2="622" y2="847.5" stroke="#008000" stroke-width="2.1"/><line x1="612.6" y1="665.9" x2="631.4" y2="665.9" stroke="#008000" stroke-width="2.1"/><line x1="612.6" y1="847.5" x2="631.4" y2="847.5" stroke="#008000" stroke-width="2.1"/>
<polygon points="611.85,748.15 632.15,748.15 622,729.05" fill="none" stroke="#008000" stroke-width="3.6" stroke-linejoin="round"/>
<line x1="771.7" y1="638.7" x2="771.7" y2="727.1" stroke="#730598" stroke-width="2.1"/><line x1="762.3" y1="638.7" x2="781.1" y2="638.7" stroke="#730598" stroke-width="2.1"/><line x1="762.3" y1="727.1" x2="781.1" y2="727.1" stroke="#730598" stroke-width="2.1"/>
<circle cx="771.7" cy="662.2" r="9.5" fill="#730598"/>
<line x1="812" y1="654.9" x2="812" y2="860" stroke="#730598" stroke-width="2.1"/><line x1="802.6" y1="654.9" x2="821.4" y2="654.9" stroke="#730598" stroke-width="2.1"/><line x1="802.6" y1="860" x2="821.4" y2="860" stroke="#730598" stroke-width="2.1"/>
<circle cx="812" cy="720.3" r="9.55" fill="none" stroke="#730598" stroke-width="3.8"/>
<line x1="852.1" y1="640.5" x2="852.1" y2="672" stroke="#0a9862" stroke-width="2.1"/><line x1="842.7" y1="640.5" x2="861.5" y2="640.5" stroke="#0a9862" stroke-width="2.1"/><line x1="842.7" y1="672" x2="861.5" y2="672" stroke="#0a9862" stroke-width="2.1"/>
<polygon points="842.8,662.6 861.4,662.6 852.1,644.2" fill="#0a9862"/>
<line x1="892.4" y1="669.7" x2="892.4" y2="783" stroke="#008000" stroke-width="2.1"/><line x1="883" y1="669.7" x2="901.8" y2="669.7" stroke="#008000" stroke-width="2.1"/><line x1="883" y1="783" x2="901.8" y2="783" stroke="#008000" stroke-width="2.1"/>
<polygon points="882.25,725.85 902.55,725.85 892.4,706.75" fill="none" stroke="#008000" stroke-width="3.6" stroke-linejoin="round"/>
<rect x="906.9" y="805.7" width="285.8" height="170.1" fill="none" stroke="#222" stroke-width="1.3"/>
<circle cx="936.8" cy="823.4" r="9.5" fill="#730598"/>
<circle cx="936.8" cy="866.8" r="9.55" fill="none" stroke="#730598" stroke-width="3.8"/>
<polygon points="927.45,919.5 946.15,919.5 936.8,900.7" fill="#0a9862"/>
<polygon points="926.85,962.2 946.55,962.2 936.7,942.8" fill="none" stroke="#008000" stroke-width="3.6" stroke-linejoin="round"/>
<text transform="translate(978.4,832.9)" font-family="'Liberation Sans', sans-serif" font-size="24.8">Pilot</text>
<text transform="translate(978.4,876.3)" font-family="'Liberation Sans', sans-serif" font-size="24.8">Pilot ≤ 200/µL</text>
<text transform="translate(980.2,919.3)" font-family="'Liberation Sans', sans-serif" font-size="24.8">Validation</text>
<text transform="translate(980.2,962.9)" font-family="'Liberation Sans', sans-serif" font-size="24.8">Validation ≤ 200/µL</text>
</svg>
</body></html>
